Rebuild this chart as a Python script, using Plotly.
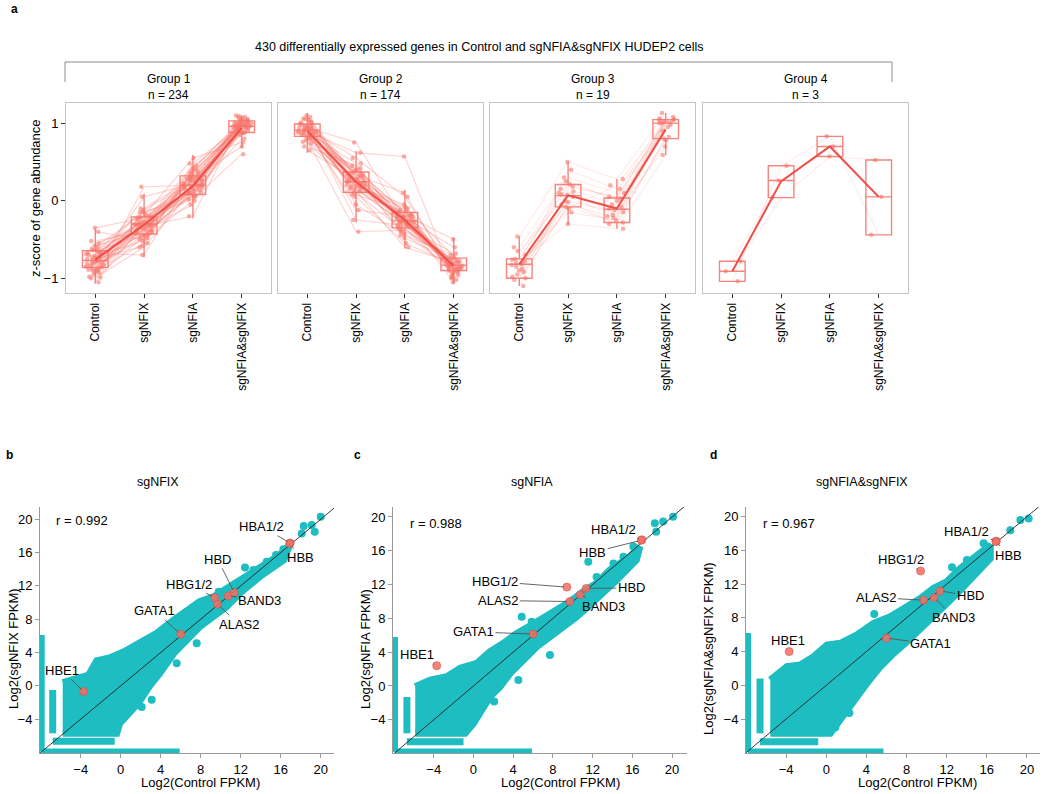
import plotly.graph_objects as go

W, H = 1050, 794
FONT = "Liberation Sans, Arial, sans-serif"
SALMON = "#F8766D"
CYAN = "#1DBDC1"

# ---------------- panel a data ----------------
conditions = ["Control", "sgNFIX", "sgNFIA", "sgNFIA&sgNFIX"]
group_labels = ["Group 1", "Group 2", "Group 3", "Group 4"]
group_sizes = [234, 174, 19, 3]

box_q1 = [[-0.86, -0.43, 0.08, 0.88], [0.83, 0.11, -0.35, -0.90],
          [-1.00, -0.08, -0.28, 0.80], [-1.04, 0.04, 0.57, -0.44]]
box_median = [[-0.77, -0.30, 0.20, 0.96], [0.91, 0.245, -0.26, -0.83],
              [-0.82, 0.065, -0.11, 1.00], [-0.91, 0.26, 0.70, 0.05]]
box_q3 = [[-0.645, -0.21, 0.32, 1.03], [0.99, 0.37, -0.15, -0.74],
          [-0.75, 0.21, 0.035, 1.045], [-0.78, 0.45, 0.83, 0.525]]
box_low = [[-1.07, -0.73, -0.23, 0.68], [0.62, -0.28, -0.62, -1.07],
           [-1.10, -0.30, -0.36, 0.59], [-1.04, 0.04, 0.57, -0.44]]
box_high = [[-0.36, 0.09, 0.59, 1.10], [1.13, 0.64, 0.14, -0.47],
            [-0.46, 0.50, 0.28, 1.13], [-0.78, 0.45, 0.83, 0.525]]
group_means = [[-0.76, -0.31, 0.19, 0.94], [0.90, 0.24, -0.25, -0.84],
               [-0.82, 0.07, -0.10, 0.92], [-0.91, 0.25, 0.70, 0.05]]

g1_genes = [
    [-0.77, -0.30, 0.20, 0.96], [-0.85, -0.40, 0.18, 1.02], [-0.70, -0.25, 0.05, 0.92],
    [-0.95, -0.35, 0.30, 1.00], [-0.65, -0.45, 0.12, 0.98], [-0.80, -0.20, 0.25, 0.88],
    [-1.05, -0.30, 0.35, 1.01], [-0.60, -0.15, 0.10, 0.80], [-0.90, -0.55, 0.40, 1.05],
    [-0.75, -0.10, 0.28, 0.70], [-0.40, -0.50, 0.00, 0.95], [-0.88, -0.28, 0.45, 0.90],
    [-0.72, -0.38, -0.05, 1.08], [-1.00, -0.60, 0.15, 1.10], [-0.82, 0.05, 0.22, 0.85],
    [-0.55, -0.33, -0.20, 1.04], [-0.68, -0.70, 0.32, 1.00], [-0.92, -0.18, 0.55, 0.75],
    [-0.78, -0.42, 0.08, 0.99], [-0.62, -0.26, 0.18, 0.94], [-0.35, -0.22, 0.02, 0.60],
    [-0.98, 0.18, 0.20, 0.92], [-0.84, -0.48, 0.38, 0.96], [-0.74, -0.32, 0.26, 1.02],
    [-0.81, -0.36, 0.14, 1.06], [-0.69, -0.24, 0.31, 0.97], [-0.87, -0.44, 0.09, 1.03],
    [-0.66, -0.12, 0.24, 0.91], [-0.58, -0.40, 0.28, 0.89], [-0.93, -0.27, 0.11, 1.07],
    [-0.71, -0.52, 0.36, 0.98], [-0.86, -0.15, 0.06, 0.93], [-0.64, -0.34, 0.42, 1.01],
    [-0.99, -0.46, 0.17, 0.95], [-0.79, -0.29, 0.29, 0.87], [-0.52, -0.39, 0.21, 1.09],
    [-0.90, -0.21, 0.13, 1.00], [-0.76, -0.58, 0.48, 0.97], [-0.73, -0.31, 0.16, 0.99],
    [-0.83, -0.23, 0.23, 0.94], [-0.67, -0.37, 0.19, 1.04], [-0.89, -0.33, 0.27, 0.92],
]
g2_genes = [
    [0.91, 0.25, -0.26, -0.83], [0.99, 0.35, -0.20, -0.88], [0.85, 0.15, -0.30, -0.78],
    [1.05, 0.30, -0.35, -0.95], [0.80, 0.40, -0.15, -0.90], [0.95, 0.10, -0.40, -0.75],
    [1.10, 0.20, -0.10, -1.00], [0.70, 0.45, -0.28, -0.85], [0.88, -0.05, -0.45, -0.70],
    [0.93, 0.55, 0.05, -0.92], [0.65, 0.28, -0.22, -0.60], [1.00, 0.05, -0.55, -0.82],
    [0.90, 0.62, 0.57, -1.02], [0.83, 0.18, -0.18, -0.50], [0.97, -0.25, -0.32, -0.86],
    [1.08, 0.33, 0.10, -0.98], [0.87, 0.12, -0.60, -0.80], [0.92, 0.38, -0.24, -1.05],
    [0.78, -0.40, -0.38, -0.76], [1.02, 0.22, -0.12, -0.89], [0.94, 0.75, -0.27, -0.84],
    [0.86, 0.27, -0.08, -0.72], [0.96, 0.31, -0.29, -0.87], [0.89, 0.20, -0.21, -0.81],
    [0.84, 0.42, -0.17, -0.93], [1.04, 0.16, -0.31, -0.79], [0.76, 0.29, -0.43, -0.88],
    [0.98, 0.08, -0.14, -0.96], [0.81, 0.36, -0.33, -0.68], [1.06, 0.24, -0.26, -0.91],
    [0.92, -0.12, -0.20, -0.85], [0.88, 0.48, -0.36, -0.82], [0.74, 0.19, -0.05, -0.99],
    [1.01, 0.32, -0.48, -0.77], [0.90, 0.26, -0.23, -0.86], [0.95, 0.21, -0.27, -0.80],
    [0.87, 0.34, -0.30, -0.84], [0.93, 0.14, -0.19, -0.88],
]
g3_genes = [
    [-0.82, 0.07, -0.10, 1.00], [-0.75, 0.21, 0.03, 1.04], [-1.00, -0.08, -0.28, 0.80],
    [-0.46, 0.50, 0.28, 1.13], [-0.90, 0.05, -0.20, 1.02], [-0.78, -0.30, -0.36, 0.59],
    [-1.10, 0.15, -0.05, 0.95], [-0.60, 0.30, 0.10, 1.08], [-0.85, -0.02, -0.30, 0.82],
    [-0.95, 0.00, -0.15, 0.70], [-0.70, 0.25, 0.00, 1.05], [-0.80, -0.15, -0.25, 1.00],
    [-0.88, 0.40, 0.15, 0.90], [-0.98, 0.10, -0.12, 1.04], [-0.76, 0.18, 0.05, 1.01],
    [-1.02, -0.05, -0.22, 0.78], [-0.65, 0.08, -0.08, 1.06], [-0.92, 0.12, -0.18, 0.98],
    [-0.83, -0.10, 0.20, 1.02],
]
g4_genes = [
    [-1.04, 0.45, 0.83, -0.44], [-0.91, 0.04, 0.57, 0.525], [-0.78, 0.26, 0.70, 0.05],
]
group_genes = [g1_genes, g2_genes, g3_genes, g4_genes]

# ---------------- panels b-d data ----------------
scatter_titles = ["sgNFIX", "sgNFIA", "sgNFIA&sgNFIX"]
r_values = ["0.992", "0.988", "0.967"]
panel_letters = ["b", "c", "d"]

genes = ["HBE1", "GATA1", "ALAS2", "HBG1/2", "BAND3", "HBD", "HBA1/2", "HBB"]
ctrl_log2 = [-3.7, 6.0, 9.7, 9.4, 10.75, 11.35, 16.95, 16.9]
nfix_log2 = [-0.68, 6.2, 9.8, 10.6, 10.8, 11.2, 17.15, 17.1]
nfia_log2 = [2.4, 6.15, 10.0, 11.7, 10.8, 11.55, 17.3, 17.25]
dko_log2 = [4.0, 5.6, 10.1, 13.55, 10.4, 11.2, 17.1, 17.05]
panel_y = [nfix_log2, nfia_log2, dko_log2]

# outline of the dense cloud of genes (Control x, condition y)
cloud_b_x = [-5.8, -4.5, -3.2, -2.4, -1.0, 0.5, 2.0, 3.6, 5.3, 6.6, 7.9, 9.3, 10.6, 11.9, 13.9, 15.9, 16.9,
             16.3, 13.9, 11.9, 10.6, 9.3, 7.9, 6.6, 5.3, 3.9, 2.9, 1.8, 0.6, -0.1, -0.4, -5.8]
cloud_b_y = [0.4, 0.9, 1.3, 3.0, 3.4, 4.2, 5.2, 6.3, 7.9, 9.1, 10.1, 10.7, 11.7, 12.7, 14.3, 15.7, 16.9,
             15.1, 13.1, 11.1, 9.5, 8.3, 7.1, 5.5, 3.9, 1.5, 0.0, -2.0, -3.7, -4.5, -5.7, -5.7]
cloud_c_x = [-5.86, -4.36, -2.68, -1.34, 0.33, 1.68, 3.02, 4.36, 5.86, 7.04, 8.38, 9.72, 11.06, 12.4, 13.74, 15.75, 16.75,
             16.4, 14.4, 13.07, 11.73, 10.39, 9.05, 7.7, 6.37, 5.03, 3.69, 2.68, 1.68, 0.84, 0.0, -0.84, -5.86]
cloud_c_y = [-0.08, 0.71, 1.10, 2.09, 2.68, 4.06, 5.05, 6.23, 7.22, 8.0, 9.0, 9.98, 11.16, 12.15, 13.73, 15.3, 16.5,
             14.9, 12.5, 10.97, 9.59, 8.2, 7.02, 5.84, 4.65, 3.08, 1.5, -0.08, -1.26, -2.84, -4.42, -5.6, -5.6]
cloud_d_x = [-5.58, -3.92, -2.59, -1.26, 0.07, 1.4, 3.06, 4.72, 6.38, 8.04, 9.37, 10.7, 12.03, 13.36, 15.02, 16.35,
             16.35, 15.02, 13.36, 12.03, 10.7, 9.37, 8.04, 6.71, 5.38, 4.05, 3.06, 2.06, 1.4, 0.4, -5.58]
cloud_d_y = [0.63, 2.21, 2.41, 3.4, 4.78, 4.98, 5.97, 7.35, 8.14, 9.33, 10.3, 11.5, 12.3, 13.87, 15.45, 16.64,
             15.06, 13.28, 11.3, 9.72, 8.14, 6.56, 5.18, 3.79, 2.21, 0.24, -1.34, -2.92, -4.11, -5.69, -5.69]
cloud_x = [cloud_b_x, cloud_c_x, cloud_d_x]
cloud_y = [cloud_b_y, cloud_c_y, cloud_d_y]

# genes with zero counts in one sample (edge strips): [x0, y0, x1, y1]
strips_b = [[-7.95, -7.9, -7.95, 6.1], [-7.9, -7.95, 5.9, -7.95], [-6.8, -5.7, -6.8, -0.5], [-6.8, -6.65, -0.6, -6.65]]
strips_c = [[-7.95, -7.8, -7.95, 5.8], [-7.9, -7.8, 5.9, -7.8], [-6.7, -5.6, -6.7, -1.3], [-6.7, -6.6, -1.0, -6.6]]
strips_d = [[-7.85, -7.9, -7.85, 6.2], [-7.8, -7.9, 5.7, -7.9], [-6.6, -5.7, -6.6, 0.8], [-6.6, -6.7, -0.8, -6.7]]
strips = [strips_b, strips_c, strips_d]

# isolated genes outside the dense cloud
out_b_x = [-0.73, 2.43, 7.6, 5.6, 3.1, 2.1, 12.43, 13.27, 14.6, 15.53, 16.27, 18.1, 18.3, 19.1, 20.0, 19.4, 9.8]
out_b_y = [3.31, 5.11, 5.11, 2.71, -1.68, -2.55, 14.2, 13.9, 14.9, 15.7, 16.4, 18.3, 19.2, 19.3, 20.3, 18.5, 11.3]
out_c_x = [4.86, 5.86, 11.56, 2.08, 4.52, 7.7, 18.26, 19.1, 20.1, 18.4, 16.1, 15.1, 14.1, 12.4, -0.67]
out_c_y = [8.2, 7.6, 14.7, -1.85, 0.71, 3.67, 19.25, 19.45, 20.04, 18.26, 16.5, 15.3, 14.5, 12.9, -4.8]
out_d_x = [4.78, 12.53, 19.34, 20.17, 18.34, 15.68, 14.02, 14.85, 2.3, 0.9]
out_d_y = [8.46, 14.0, 19.6, 19.8, 18.4, 16.84, 14.86, 13.68, -3.3, -5.0]
out_x = [out_b_x, out_c_x, out_d_x]
out_y = [out_b_y, out_c_y, out_d_y]

# label placement (data coords) for highlighted genes, per panel
label_pos = [
    [(-5.9, 1.9), (3.4, 9.0), (11.8, 7.4), (6.8, 12.2), (13.9, 10.3), (9.7, 15.2), (14.1, 19.1), (18.0, 15.4)],
    [(-5.7, 3.7), (0.0, 6.4), (2.5, 10.1), (2.2, 12.35), (13.1, 9.4), (15.9, 11.6), (14.1, 18.5), (12.0, 15.8)],
    [(-3.8, 5.3), (10.4, 4.9), (5.0, 10.4), (7.4, 14.9), (12.7, 8.1), (14.35, 10.6), (14.0, 18.3), (18.2, 15.45)],
]

# ---------------- layout geometry (pixels) ----------------
def px(x):
    return x / W

def py(y):
    return 1 - y / H

a_x_dom = [(66, 271), (278, 483), (490, 695), (703, 908)]
a_y_dom = (103, 293)
s_x_dom = [(40, 334), (393, 687), (746, 1040)]
s_y_dom = (507, 753)
s_x_range = [[-8.07, 21.33], [-8.1, 21.5], [-8.0, 21.3]]
s_y_range = [[-8.06, 21.47], [-7.93, 21.18], [-8.03, 21.15]]

fig = go.Figure()
layout = dict(width=W, height=H, margin=dict(l=0, r=0, t=0, b=0), autosize=False,
              paper_bgcolor="white", plot_bgcolor="white", showlegend=False,
              boxmode="overlay", boxgap=0.25,
              font=dict(family=FONT, size=12, color="black"))
annotations = []
shapes = []


def paper_text(x, y, text, size=12, angle=0):
    return dict(x=px(x), y=py(y), xref="paper", yref="paper", text=text, showarrow=False,
                xanchor="center", yanchor="middle", textangle=angle, font=dict(size=size))


# ---- panel a ----
for g in range(4):
    ax = "x" if g == 0 else f"x{g+1}"
    ay = "y" if g == 0 else f"y{g+1}"
    axkey = "xaxis" if g == 0 else f"xaxis{g+1}"
    aykey = "yaxis" if g == 0 else f"yaxis{g+1}"
    rows = group_genes[g]
    line_alpha = 0.33 if g < 2 else 0.15
    for r in rows:
        fig.add_trace(go.Scatter(x=conditions, y=r, mode="lines", xaxis=ax, yaxis=ay,
                                 line=dict(color=f"rgba(248,118,109,{line_alpha})", width=1.1),
                                 hoverinfo="skip"))
    px_x = [c for r in rows for c in conditions]
    px_y = [v for r in rows for v in r]
    fig.add_trace(go.Box(x=px_x, y=px_y, xaxis=ax, yaxis=ay, boxpoints="all", jitter=0.8,
                         pointpos=0, line=dict(width=0, color="rgba(0,0,0,0)"),
                         fillcolor="rgba(0,0,0,0)",
                         marker=dict(color="rgba(248,118,109,0.6)", size=4.5)))
    fig.add_trace(go.Box(x=conditions, q1=box_q1[g], median=box_median[g], q3=box_q3[g],
                         lowerfence=box_low[g], upperfence=box_high[g], xaxis=ax, yaxis=ay,
                         boxpoints=False, whiskerwidth=0, fillcolor="rgba(0,0,0,0)",
                         line=dict(color="rgba(246,110,102,0.85)", width=1.4)))
    fig.add_trace(go.Scatter(x=conditions, y=group_means[g], mode="lines", xaxis=ax, yaxis=ay,
                             line=dict(color="#EE5049", width=2)))
    x0, x1 = a_x_dom[g]
    layout[axkey] = dict(domain=[px(x0), px(x1)], anchor=ay, type="category",
                         categoryorder="array", categoryarray=conditions, range=[-0.6, 3.6],
                         showline=True, mirror=True, linecolor="#C4C4C4", linewidth=1,
                         ticks="outside", ticklen=4, tickcolor="#333", tickangle=-90,
                         tickfont=dict(size=12), showgrid=False, zeroline=False, fixedrange=True)
    layout[aykey] = dict(domain=[py(a_y_dom[1]), py(a_y_dom[0])], anchor=ax, range=[-1.19, 1.26],
                         showline=True, mirror=True, linecolor="#C4C4C4", linewidth=1,
                         showgrid=False, zeroline=False,
                         ticks="outside" if g == 0 else "", ticklen=4, tickcolor="#333",
                         tickvals=[-1, 0, 1], ticktext=["\u22121", "0", "1"],
                         showticklabels=(g == 0), tickfont=dict(size=13))
    annotations.append(paper_text((x0 + x1) / 2, 79, group_labels[g]))
    annotations.append(paper_text((x0 + x1) / 2, 95, f"n = {group_sizes[g]}"))

annotations.append(paper_text(35, 198, "z-score of gene abundance", 13, -90))
annotations.append(paper_text(479, 47, "430 differentially expressed genes in Control and sgNFIA&sgNFIX HUDEP2 cells", 12.5))
annotations.append(paper_text(14, 9, "<b>a</b>", 12))
for (xa, ya, xb, yb) in [(65, 62, 892, 62), (65, 62, 65, 82), (892, 62, 892, 82)]:
    shapes.append(dict(type="line", xref="paper", yref="paper", x0=px(xa), y0=py(ya), x1=px(xb), y1=py(yb),
                       line=dict(color="#8C8C8C", width=1)))

# ---- panels b-d ----
title_x = [158, 532, 862]
r_x = [82, 436, 789]
r_y = [520, 523, 523]
letter_x = [9, 357, 713]
xt_x = [200, 560, 917]
yt_x = [13, 365, 708]
ytitles = ["Log2(sgNFIX FPKM)", "Log2(sgNFIA FPKM)", "Log2(sgNFIA&sgNFIX FPKM)"]

for p in range(3):
    n = 5 + p
    ax, ay = f"x{n}", f"y{n}"
    fig.add_trace(go.Scatter(x=cloud_x[p], y=cloud_y[p], mode="lines", fill="toself", fillcolor=CYAN,
                             line=dict(color=CYAN, width=7), xaxis=ax, yaxis=ay, hoverinfo="skip"))
    for s in strips[p]:
        fig.add_trace(go.Scatter(x=[s[0], s[2]], y=[s[1], s[3]], mode="lines", xaxis=ax, yaxis=ay,
                                 line=dict(color=CYAN, width=7), hoverinfo="skip"))
    fig.add_trace(go.Scatter(x=out_x[p], y=out_y[p], mode="markers", xaxis=ax, yaxis=ay,
                             marker=dict(color=CYAN, size=8, line=dict(width=0))))
    fig.add_trace(go.Scatter(x=[-9, 22], y=[-9, 22], mode="lines", xaxis=ax, yaxis=ay,
                             line=dict(color="#222", width=0.9), hoverinfo="skip"))
    fig.add_trace(go.Scatter(x=ctrl_log2, y=panel_y[p], mode="markers", xaxis=ax, yaxis=ay,
                             marker=dict(color="rgba(245,110,100,0.85)", size=8,
                                         line=dict(color="rgba(215,80,72,0.9)", width=0.7))))
    x0, x1 = s_x_dom[p]
    layout[f"xaxis{n}"] = dict(domain=[px(x0), px(x1)], anchor=ay, range=s_x_range[p],
                               tickvals=[-4, 0, 4, 8, 12, 16, 20],
                               ticktext=["\u22124", "0", "4", "8", "12", "16", "20"],
                               showline=True, linecolor="#9A9A9A", linewidth=1, ticks="outside",
                               ticklen=4, tickcolor="#9A9A9A", showgrid=False, zeroline=False,
                               tickfont=dict(size=13))
    layout[f"yaxis{n}"] = dict(domain=[py(s_y_dom[1]), py(s_y_dom[0])], anchor=ax, range=s_y_range[p],
                               tickvals=[-4, 0, 4, 8, 12, 16, 20],
                               ticktext=["\u22124", "0", "4", "8", "12", "16", "20"],
                               showline=True, linecolor="#9A9A9A", linewidth=1, ticks="outside",
                               ticklen=4, tickcolor="#9A9A9A", showgrid=False, zeroline=False,
                               tickfont=dict(size=13))
    for i, gname in enumerate(genes):
        lx, ly = label_pos[p][i]
        annotations.append(dict(x=ctrl_log2[i], y=panel_y[p][i], xref=ax, yref=ay,
                                ax=lx, ay=ly, axref=ax, ayref=ay, text=gname, showarrow=True,
                                arrowhead=0, arrowwidth=0.9, arrowcolor="#555", standoff=3,
                                xanchor="center", yanchor="middle", font=dict(size=13)))
    annotations.append(paper_text(title_x[p], 482, scatter_titles[p], 12.5))
    annotations.append(paper_text(r_x[p], r_y[p], f"r = {r_values[p]}", 13))
    annotations.append(paper_text(letter_x[p], 455, f"<b>{panel_letters[p]}</b>", 12))
    annotations.append(paper_text(xt_x[p], 782, "Log2(Control FPKM)", 13))
    annotations.append(paper_text(yt_x[p], 649, ytitles[p], 13, -90))

layout["annotations"] = annotations
layout["shapes"] = shapes
fig.update_layout(**layout)
fig.write_html("out.html", config={"displayModeBar": False},
               post_script="document.body.style.margin='0';")
